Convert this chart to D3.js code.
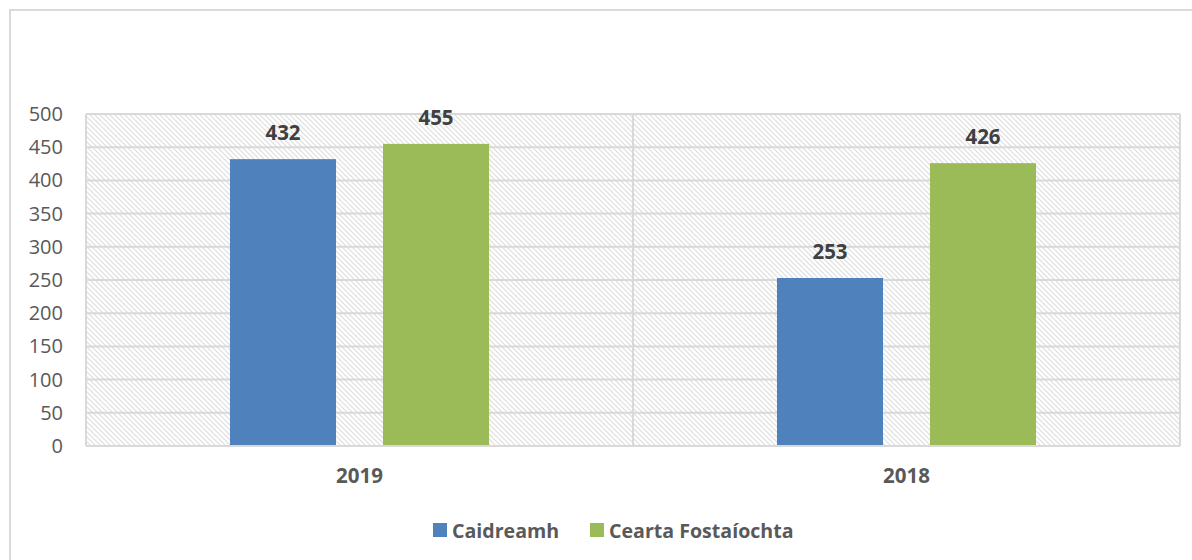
<!DOCTYPE html>
<html>
<head>
<meta charset="utf-8">
<script src="https://cdn.jsdelivr.net/npm/d3@7"></script>
<style>
  html, body { margin: 0; padding: 0; background: #fff; }
  svg { display: block; font-family: "Open Sans", sans-serif; }
</style>
</head>
<body>
<svg id="chart" width="1192" height="560"></svg>
<script>
const categories = ["2019", "2018"];
const seriesNames = ["Caidreamh", "Cearta Fostaíochta"];
const caidreamh = [432, 253];
const ceartaFostaiochta = [455, 426];
const yTicks = [0, 50, 100, 150, 200, 250, 300, 350, 400, 450, 500];
const colors = ["#4f81bd", "#9bbb59"];

const seriesValues = [caidreamh, ceartaFostaiochta];
const svg = d3.select("#chart");

const plot = { left: 86, right: 1180, top: 114, bottom: 446 };

// hatch pattern
const defs = svg.append("defs");
const pat = defs.append("pattern")
  .attr("id", "hatch").attr("patternUnits", "userSpaceOnUse")
  .attr("width", 5).attr("height", 5);
pat.append("rect").attr("width", 5).attr("height", 5).attr("fill", "#fff");
pat.append("path").attr("d", "M0,0 L5,5 M-1,4 L1,6 M4,-1 L6,1")
  .attr("stroke", "#dedede").attr("stroke-width", 1.2);

// outer border
svg.append("rect").attr("x", 10).attr("y", 10).attr("width", 1200).attr("height", 600)
  .attr("fill", "none").attr("stroke", "#d9d9d9").attr("stroke-width", 2);

const x0 = d3.scaleBand().domain(categories).range([plot.left, plot.right]).padding(0);
const x1 = d3.scaleBand().domain(seriesNames).range([0, x0.bandwidth()])
  .paddingInner(0.307).paddingOuter(0.941);
const y = d3.scaleLinear().domain([0, 500]).range([plot.bottom, plot.top]);

// hatched background
svg.append("rect").attr("x", plot.left).attr("y", plot.top)
  .attr("width", plot.right - plot.left).attr("height", plot.bottom - plot.top)
  .attr("fill", "url(#hatch)");

// gridlines
svg.append("g").selectAll("line").data(yTicks).join("line")
  .attr("x1", plot.left).attr("x2", plot.right)
  .attr("y1", d => y(d)).attr("y2", d => y(d))
  .attr("stroke", "#d9d9d9").attr("stroke-width", 2);

// vertical category separators
const seps = [x0.range()[0]].concat(categories.map(c => x0(c) + x0.bandwidth()));
svg.append("g").selectAll("line").data(seps).join("line")
  .attr("x1", d => d).attr("x2", d => d)
  .attr("y1", plot.top).attr("y2", plot.bottom)
  .attr("stroke", "#d9d9d9").attr("stroke-width", 2);

// y axis labels
const yAxis = d3.axisLeft(y).tickValues(yTicks).tickSize(0).tickPadding(0);
const ya = svg.append("g").attr("transform", `translate(63,0)`).call(yAxis);
ya.select(".domain").remove();
ya.selectAll("text").attr("font-size", 20).attr("fill", "#595959")
  .attr("font-family", "Open Sans, sans-serif");

// bars
const groups = svg.append("g").selectAll("g").data(categories).join("g")
  .attr("transform", c => `translate(${x0(c)},0)`);
groups.selectAll("rect").data((c, i) => seriesNames.map((s, j) => ({ s, j, v: seriesValues[j][i] })))
  .join("rect")
  .attr("x", d => x1(d.s)).attr("width", x1.bandwidth())
  .attr("y", d => y(d.v)).attr("height", d => y(0) - y(d.v))
  .attr("fill", d => colors[d.j]);
groups.selectAll("text").data((c, i) => seriesNames.map((s, j) => ({ s, j, v: seriesValues[j][i] })))
  .join("text")
  .attr("x", d => x1(d.s) + x1.bandwidth() / 2)
  .attr("y", d => y(d.v) - 19)
  .attr("text-anchor", "middle")
  .attr("font-size", 20.5).attr("font-weight", "bold").attr("fill", "#404040")
  .text(d => d.v);

// x axis bottom line
svg.append("line").attr("x1", plot.left).attr("x2", plot.right)
  .attr("y1", plot.bottom).attr("y2", plot.bottom)
  .attr("stroke", "#d9d9d9").attr("stroke-width", 2);

// category labels
const xAxis = d3.axisBottom(x0).tickSize(0).tickPadding(0);
const xa = svg.append("g").attr("transform", `translate(0,${plot.bottom + 22})`).call(xAxis);
xa.select(".domain").remove();
xa.selectAll("text").attr("font-size", 20.5).attr("font-weight", "bold").attr("fill", "#595959")
  .attr("font-family", "Open Sans, sans-serif");

// legend
const legendX = [433, 590];
const leg = svg.append("g").selectAll("g").data(seriesNames).join("g")
  .attr("transform", (d, i) => `translate(${legendX[i]},523)`);
leg.append("rect").attr("width", 14).attr("height", 14).attr("fill", (d, i) => colors[i]);
leg.append("text").attr("x", 19).attr("y", 14.5)
  .attr("font-size", 19.6).attr("font-weight", "bold").attr("fill", "#595959")
  .text(d => d);
</script>
</body>
</html>
